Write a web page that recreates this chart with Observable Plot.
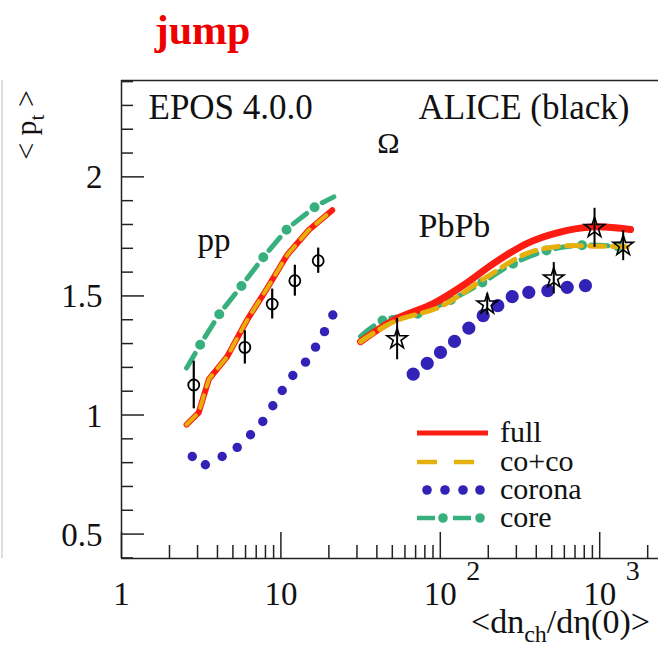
<!DOCTYPE html>
<html><head><meta charset="utf-8">
<script src="https://cdn.jsdelivr.net/npm/d3@7"></script>
<script src="https://cdn.jsdelivr.net/npm/@observablehq/plot@0.6"></script>
<style>body{margin:0;background:#fff} svg text{font-family:"Liberation Serif","DejaVu Serif",serif;}</style>
</head><body><div id="chart"></div>
<script>
// ---------- data ----------
// pp, EPOS curves
const ppFullX   = [2.56, 3.05, 3.53, 4.60, 6.15, 8.20, 10.95, 14.96, 20.98];
const ppFullY   = [0.96, 1.01, 1.15, 1.245, 1.40, 1.532, 1.672, 1.777, 1.86];
const ppCocoX   = [2.56, 3.05, 3.53, 4.60, 6.15, 8.20, 10.95, 14.96, 20.98];
const ppCocoY   = [0.96, 1.01, 1.15, 1.245, 1.40, 1.532, 1.672, 1.777, 1.86];
const ppCoronaX = [2.78, 3.36, 4.28, 5.32, 6.45, 7.70, 8.90, 10.19, 11.88, 14.27, 16.49, 18.77, 21.17];
const ppCoronaY = [0.826, 0.791, 0.826, 0.864, 0.917, 0.973, 1.039, 1.103, 1.166, 1.222, 1.285, 1.35, 1.42];
const ppCoreX   = [2.56, 3.13, 4.14, 5.72, 7.81, 11.11, 16.9, 21.5];
const ppCoreY   = [1.197, 1.297, 1.427, 1.546, 1.665, 1.786, 1.881, 1.916];
// PbPb, EPOS curves
const pbFullX   = [31.6, 51.1, 91.0, 140.4, 216.6, 351, 541, 918, 1561];
const pbFullY   = [1.308, 1.399, 1.469, 1.546, 1.637, 1.721, 1.765, 1.79, 1.779];
const pbCocoX   = [31.6, 51.1, 100.3, 197, 351, 568, 918, 1488];
const pbCocoY   = [1.308, 1.392, 1.455, 1.581, 1.679, 1.709, 1.709, 1.706];
const pbCoronaX = [67.6, 82.8, 100.3, 122.8, 151, 185.8, 229.5, 282.5, 359, 472.5, 625.5, 814];
const pbCoronaY = [1.172, 1.217, 1.263, 1.309, 1.365, 1.417, 1.459, 1.497, 1.515, 1.522, 1.536, 1.543];
const pbCoreX   = [31.6, 44.2, 73.3, 118.8, 187.5, 289, 479, 814, 1416];
const pbCoreY   = [1.33, 1.399, 1.427, 1.486, 1.56, 1.637, 1.693, 1.714, 1.706];
// ALICE data
const alicePpX   = [2.84, 5.94, 8.82, 12.23, 17.14];
const alicePpY   = [1.126, 1.284, 1.466, 1.564, 1.648];
const alicePpErr = [0.10, 0.07, 0.063, 0.065, 0.053];
const alicePbX   = [53.6, 197, 515, 928, 1404];
const alicePbY   = [1.319, 1.465, 1.574, 1.786, 1.711];
const alicePbErr = [0.087, 0.045, 0.066, 0.082, 0.063];
// ticks
const yMajor = [0.5, 1, 1.5, 2];
const yMajorLabels = ["0.5", "1", "1.5", "2"];
const yMinor = [0.4,0.6,0.7,0.8,0.9,1.1,1.2,1.3,1.4,1.6,1.7,1.8,1.9,2.1,2.2,2.3,2.4];
const xMajor = [1, 10, 100, 1000];
const xPlainLabels = [1, 10];
const xPowLabels = [100, 1000];
const xPowExp = ["2", "3"];
const xMinor = [2,3,4,5,6,7,8,9,20,30,40,50,60,70,80,90,200,300,400,500,600,700,800,900,2000];

// ---------- build tables ----------
const zip = (xs, ys) => xs.map((x, i) => ({x, y: ys[i]}));
const ppFull = zip(ppFullX, ppFullY), pbFull = zip(pbFullX, pbFullY);
const ppCoco = zip(ppCocoX, ppCocoY), pbCoco = zip(pbCocoX, pbCocoY);
const ppCorona = zip(ppCoronaX, ppCoronaY), pbCorona = zip(pbCoronaX, pbCoronaY);
const ppCore = zip(ppCoreX, ppCoreY), pbCore = zip(pbCoreX, pbCoreY);
const alicePp = alicePpX.map((x, i) => ({x, y: alicePpY[i], e: alicePpErr[i]}));
const alicePb = alicePbX.map((x, i) => ({x, y: alicePbY[i], e: alicePbErr[i]}));

const FONT = "Liberation Serif, DejaVu Serif, serif";
const RED = "#fb1c12", YEL = "#e6b00c", BLUE = "#3322b6", GREEN = "#38b07e";
const W = 658, H = 648, ML = 121, MT = 80, MB = 90;
const decade = 159.4;
const xMax = Math.pow(10, (W - ML) / decade);
const yDomain = [0.3975, 2.4046];
const FW = W - ML, FH = H - MT - MB;

const coreMarks = (data, curve) => [
  Plot.line(data, {x: "x", y: "y", curve, stroke: GREEN, strokeWidth: 5, strokeDasharray: "17 19"}),
  Plot.line(data, {x: "x", y: "y", curve, stroke: GREEN, strokeWidth: 10, strokeLinecap: "round", strokeDasharray: "0 36", strokeDashoffset: -27})
];

const plot = Plot.plot({
  width: W, height: H,
  marginLeft: ML, marginRight: 0, marginTop: MT, marginBottom: MB,
  x: {type: "log", domain: [1, xMax], axis: null},
  y: {domain: yDomain, axis: null},
  style: {fontFamily: FONT, background: "#fff"},
  marks: [
    Plot.ruleX([1], {dx: -119.5, stroke: "#c8c8c8", strokeWidth: 1.2}),
    Plot.ruleY([yDomain[1]], {stroke: "#222", strokeWidth: 1.5}),
    Plot.ruleY([yDomain[0]], {stroke: "#222", strokeWidth: 1.5}),
    Plot.ruleX([1], {stroke: "#222", strokeWidth: 1.5}),
    Plot.tickY(yMajor, {y: d => d, insetRight: FW - 23, stroke: "#222", strokeWidth: 1.5}),
    Plot.tickY(yMinor, {y: d => d, insetRight: FW - 12, stroke: "#222", strokeWidth: 1.5}),
    Plot.tickX(xMajor, {x: d => d, insetTop: FH - 26, stroke: "#222", strokeWidth: 1.5}),
    Plot.tickX(xMinor, {x: d => d, insetTop: FH - 13, stroke: "#222", strokeWidth: 1.5}),
    Plot.text(yMajor, {y: d => d, text: (d, i) => yMajorLabels[i], frameAnchor: "left", textAnchor: "end",
      lineAnchor: "bottom", dx: -19, dy: 11.5, fontSize: 33, fill: "#111", fontFamily: FONT}),
    Plot.text(xPlainLabels, {x: d => d, text: d => String(d), frameAnchor: "bottom", textAnchor: "middle",
      lineAnchor: "bottom", dy: 46, fontSize: 33, fill: "#111", fontFamily: FONT}),
    Plot.text(xPowLabels, {x: d => d, text: () => "10", frameAnchor: "bottom", textAnchor: "middle",
      lineAnchor: "bottom", dy: 46, fontSize: 33, fill: "#111", fontFamily: FONT}),
    Plot.text(xPowLabels, {x: d => d, text: (d, i) => xPowExp[i], frameAnchor: "bottom", textAnchor: "start",
      lineAnchor: "bottom", dx: 26, dy: 21, fontSize: 28, fill: "#111", fontFamily: FONT}),
    Plot.dot(ppCorona, {x: "x", y: "y", r: 4.7, fill: BLUE, stroke: null}),
    Plot.dot(pbCorona, {x: "x", y: "y", r: 6.6, fill: BLUE, stroke: null}),
    ...coreMarks(ppCore, "linear"),
    ...coreMarks(pbCore, "catmull-rom"),
    Plot.line(ppFull, {x: "x", y: "y", stroke: RED, strokeWidth: 6}),
    Plot.line(pbFull, {x: "x", y: "y", curve: "catmull-rom", stroke: RED, strokeWidth: 7}),
    Plot.line(ppCoco, {x: "x", y: "y", stroke: YEL, strokeWidth: 4, strokeDasharray: "13 9"}),
    Plot.line(pbCoco, {x: "x", y: "y", curve: "catmull-rom", stroke: YEL, strokeWidth: 5, strokeDasharray: "15 8"}),
    Plot.ruleX(alicePp, {x: "x", y1: d => d.y - d.e, y2: d => d.y + d.e, stroke: "#000", strokeWidth: 2.2}),
    Plot.dot(alicePp, {x: "x", y: "y", r: 5.5, stroke: "#000", strokeWidth: 1.8, fill: "none"}),
    Plot.ruleX(alicePb, {x: "x", y1: d => d.y - d.e, y2: d => d.y + d.e, stroke: "#000", strokeWidth: 2}),
    Plot.dot(alicePb, {x: "x", y: "y", symbol: "star", r: 6.4, stroke: "#000", strokeWidth: 1.6, fill: "none"}),
    Plot.text(["jump"], {frameAnchor: "top-left", dx: 81, dy: -37, textAnchor: "middle", lineAnchor: "bottom",
      fill: "#ee0000", fontWeight: "bold", fontSize: 42, fontFamily: FONT}),
    Plot.text(["EPOS 4.0.0"], {frameAnchor: "top-left", dx: 27, dy: 38, textAnchor: "start", lineAnchor: "bottom", fontSize: 35, fill: "#111", fontFamily: FONT}),
    Plot.text(["ALICE (black)"], {frameAnchor: "top-left", dx: 297, dy: 38, textAnchor: "start", lineAnchor: "bottom", fontSize: 35, fill: "#111", fontFamily: FONT}),
    Plot.text(["Ω"], {frameAnchor: "top-left", dx: 267, dy: 72, textAnchor: "middle", lineAnchor: "bottom", fontSize: 30, fill: "#111", fontFamily: FONT}),
    Plot.text(["pp"], {frameAnchor: "top-left", dx: 76, dy: 170, textAnchor: "start", lineAnchor: "bottom", fontSize: 33, fill: "#111", fontFamily: FONT}),
    Plot.text(["PbPb"], {frameAnchor: "top-left", dx: 297, dy: 156, textAnchor: "start", lineAnchor: "bottom", fontSize: 34, fill: "#111", fontFamily: FONT})
  ]
});

const svg = d3.select(plot);
const xt = svg.append("text").attr("x", 471).attr("y", 633).attr("text-anchor", "start")
  .attr("font-size", 34).attr("fill", "#111").attr("font-family", FONT);
xt.append("tspan").text("<dn");
xt.append("tspan").attr("font-size", 24).attr("dy", 9).text("ch");
xt.append("tspan").attr("dy", -9).text("/dη(0)>");
const yt = svg.append("text").attr("transform", "translate(36,125) rotate(-90)").attr("text-anchor", "middle")
  .attr("font-size", 30).attr("fill", "#111").attr("font-family", FONT);
yt.append("tspan").text("< p");
yt.append("tspan").attr("font-size", 21).attr("dy", 8).text("t");
yt.append("tspan").attr("dy", -8).text(" >");

const lg = svg.append("g").attr("font-family", FONT).attr("font-size", 30).attr("fill", "#111").attr("text-anchor", "start");
const legendNames = ["full", "co+co", "corona", "core"];
const legendY = [433, 462, 490, 518];
lg.append("line").attr("x1", 417).attr("x2", 488).attr("y1", legendY[0]).attr("y2", legendY[0]).attr("stroke", RED).attr("stroke-width", 5);
lg.append("line").attr("x1", 417).attr("x2", 490).attr("y1", legendY[1]).attr("y2", legendY[1]).attr("stroke", YEL).attr("stroke-width", 4.5).attr("stroke-dasharray", "20 17");
[427, 445, 463, 480].forEach(cx => lg.append("circle").attr("cx", cx).attr("cy", legendY[2]).attr("r", 4.8).attr("fill", BLUE));
lg.append("line").attr("x1", 417).attr("x2", 472).attr("y1", legendY[3]).attr("y2", legendY[3]).attr("stroke", GREEN).attr("stroke-width", 4.5).attr("stroke-dasharray", "18 18");
[443, 480].forEach(cx => lg.append("circle").attr("cx", cx).attr("cy", legendY[3]).attr("r", 4.8).attr("fill", GREEN));
legendNames.forEach((n, i) => lg.append("text").attr("x", 500).attr("y", legendY[i] + 9).text(n));

document.getElementById("chart").appendChild(plot);
</script>
</body></html>
